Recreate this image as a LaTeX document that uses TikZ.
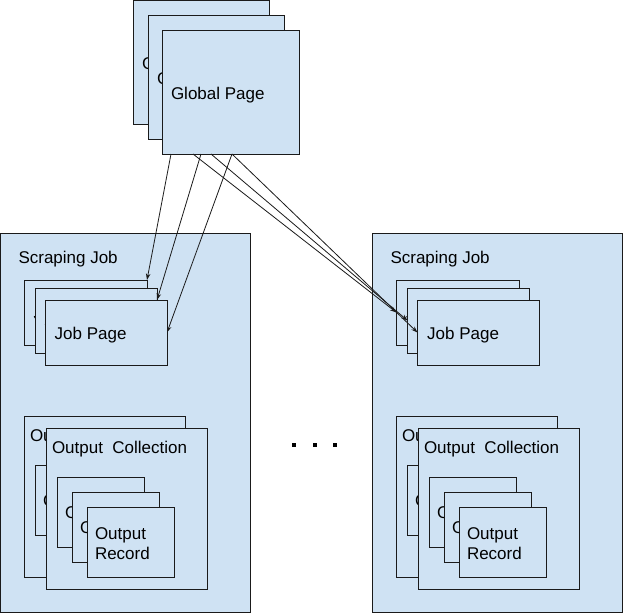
\documentclass[tikz,border=0pt]{standalone}
\usepackage{fontspec}
\setmainfont{Liberation Sans}
\usetikzlibrary{arrows.meta,calc}
\definecolor{boxfill}{HTML}{CFE2F3}
\definecolor{edgecol}{HTML}{1A1A1A}
\tikzset{
  pbox/.style={draw=edgecol, fill=boxfill, line width=1pt, rectangle, inner sep=0pt, outer sep=0pt},
  ptext/.style={inner sep=0pt, outer sep=0pt, align=left, text=black, font=\fontsize{17}{20}\selectfont},
  conn/.style={draw=edgecol, line width=0.8pt, -{Stealth[length=6.5pt,width=4.5pt]}},
  dotbox/.style={fill=black, draw=none, rectangle, minimum size=3.5pt, inner sep=0pt}
}
% name x1 y1 x2 y2 padx dy text
\newcommand\pg[8]{%
  \node[pbox, minimum width={(#4)-(#2)}, minimum height={(#5)-(#3)}, anchor=north west] (#1) at ({#2},{#3}) {};
  \node[ptext, anchor=base west] (#1t) at ($(#1.west)+(#6,#7)$) {#8};
}
\newcommand\recs[3]{%
  \pg{#1a}{#2+11}{#3+49}{#2+98}{#3+119}{8}{6.7}{Output}
  \pg{#1b}{#2+26}{#3+64}{#2+113}{#3+134}{8}{6.7}{Output}
  \pg{#1c}{#2+41}{#3+79}{#2+128}{#3+149}{8}{17.3}{Output\\Record}
}
\newcommand\ocol[3]{%
  \node[pbox, minimum width=161, minimum height=161, anchor=north west] (#1) at ({#2},{#3}) {};
  \node[ptext, anchor=base west] (#1t) at ($(#1.north west)+(6,25.3)$) {Output\ \ Collection};
  \recs{#1r}{#2}{#3}
}
\begin{document}
\begin{tikzpicture}[x=1pt,y=-1pt]
\fill[white] (0,0) rectangle (623,614);
\useasboundingbox (0,0) rectangle (623,614);

% Global page stack
\pg{gpa}{133}{0.5}{269}{124}{9}{7}{Global Page}
\pg{gpb}{148}{15}{284}{139}{9}{7}{Global Page}
\pg{gpc}{162}{30}{299}{154}{9}{7}{Global Page}

% Left scraping job
\node[pbox, minimum width=249.5, minimum height=379, anchor=north west] (sjL) at (0.5,233) {};
\node[ptext, anchor=base west] (sjLt) at ($(sjL.north west)+(18,30)$) {Scraping Job};
\pg{jpLa}{24}{280}{147}{345}{9.7}{6.8}{Job Page}
\pg{jpLb}{35}{288}{157}{353}{9.7}{6.8}{Job Page}
\pg{jpLc}{45}{300}{167}{365}{9.7}{6.8}{Job Page}
\ocol{ocLa}{24}{416}
\ocol{ocLb}{46}{428}

% Right scraping job
\node[pbox, minimum width=249.5, minimum height=379, anchor=north west] (sjR) at (372.5,233) {};
\node[ptext, anchor=base west] (sjRt) at ($(sjR.north west)+(18,30)$) {Scraping Job};
\pg{jpRa}{396.5}{280}{519.5}{345}{9.7}{6.8}{Job Page}
\pg{jpRb}{407.5}{288}{529.5}{353}{9.7}{6.8}{Job Page}
\pg{jpRc}{417.5}{300}{539.5}{365}{9.7}{6.8}{Job Page}
\ocol{ocRa}{396}{416}
\ocol{ocRb}{418}{428}

% dots
\node[dotbox] (d1) at (294,445) {};
\node[dotbox] (d2) at (315,445) {};
\node[dotbox] (d3) at (335,445) {};

% connectors
\coordinate (s1) at ($(gpc.south west)+(9,0)$);
\coordinate (s2) at ($(gpc.south west)+(39,0)$);
\coordinate (s3) at ($(gpc.south west)+(70,0)$);
\coordinate (s4) at ($(gpc.south west)+(31,0)$);
\coordinate (s5) at ($(gpc.south west)+(49,0)$);
\draw[conn] (s1) -- (jpLa.north east);
\draw[conn] (s2) -- (jpLb.north east |- jpLc.north);
\draw[conn] (s3) -- (jpLc.east);
\draw[conn] (s4) -- (jpRa.west);
\draw[conn] (s5) -- (jpRb.west);
\draw[conn] (s3) -- (jpRc.west);
\end{tikzpicture}
\end{document}
